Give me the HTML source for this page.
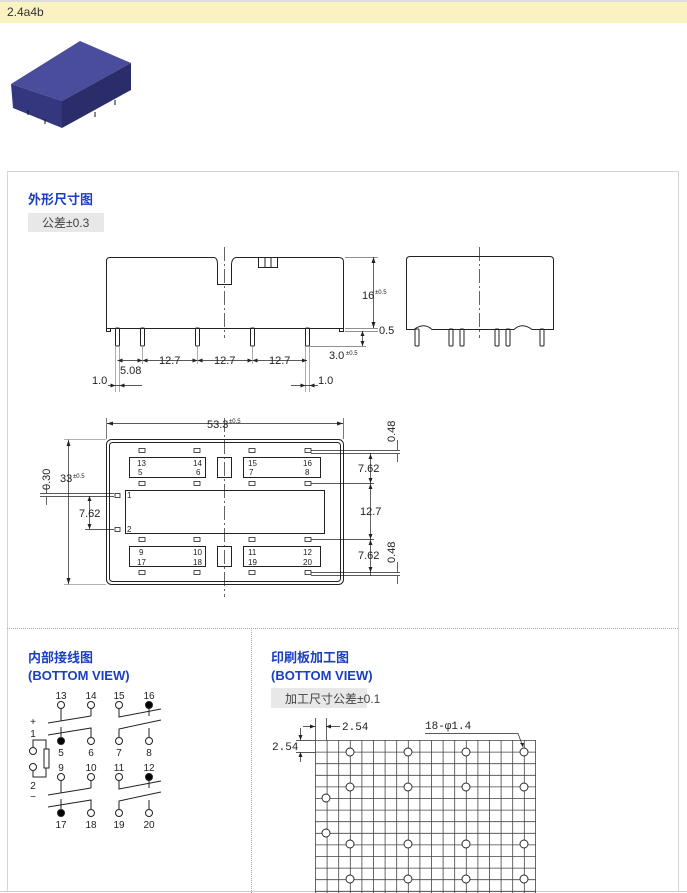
<!DOCTYPE html>
<html><head><meta charset="utf-8"><style>
body{margin:0;width:687px;height:893px;background:#fff;overflow:hidden;font-family:"Liberation Sans","Noto Sans CJK SC",sans-serif}
svg{display:block}
</style></head><body>
<svg width="687" height="893" viewBox="0 0 687 893" xmlns="http://www.w3.org/2000/svg" font-family="Liberation Sans, Noto Sans CJK SC, sans-serif">
<rect x="0" y="0" width="687" height="2" fill="#ddd"/>
<rect x="0" y="2" width="687" height="21" fill="#faf2c0"/>
<text x="7" y="16" font-size="12" fill="#333">2.4a4b</text>
<!-- relay -->
<polygon points="11,84 80,41 131,63 62,101" fill="#4a4c9c"/>
<polygon points="11,84 62,101 62,128 13,108" fill="#34367e"/>
<polygon points="62,101 131,63 131,90 62,128" fill="#2b2c6a"/>
<g stroke="#111" stroke-width="1"><line x1="28" y1="110" x2="28" y2="115"/><line x1="45" y1="119" x2="45" y2="124"/><line x1="95" y1="112" x2="95" y2="117"/><line x1="115" y1="100" x2="115" y2="105"/></g>
<!-- panels -->
<g fill="none" stroke="#aaa" stroke-dasharray="1,1">
<rect x="7.5" y="171.5" width="671" height="720"/>
<line x1="7" y1="628.5" x2="679" y2="628.5"/>
<line x1="251.5" y1="628" x2="251.5" y2="893"/>
</g>
<line x1="0" y1="891.5" x2="687" y2="891.5" stroke="#ccc"/>
<g font-weight="bold" fill="#1a3fc0" font-size="13">
<text x="28" y="204">外形尺寸图</text>
<text x="28" y="662">内部接线图</text>
<text x="28" y="680">(BOTTOM VIEW)</text>
<text x="271" y="662">印刷板加工图</text>
<text x="271" y="680">(BOTTOM VIEW)</text>
</g>
<rect x="28" y="213" width="76" height="19" fill="#e8e8e8"/>
<text x="42" y="227" font-size="12" fill="#444">公差±0.3</text>
<rect x="271" y="688" width="96" height="20" fill="#e8e8e8"/>
<text x="285" y="703" font-size="12" fill="#444">加工尺寸公差±0.1</text>

<g fill="none" stroke="#222" stroke-width="1">
<path d="M106.5,328.5 V261 Q106.5,257.5 110,257.5 H214 Q217.5,258 217.5,264 V284.5 H231.5 V264 Q232,258 236,257.5 H339 Q343.5,257.5 343.5,262 V328.5 Z"/>
<rect x="258.5" y="257.5" width="19" height="10"/><line x1="265" y1="257" x2="265" y2="268"/><line x1="271" y1="257" x2="271" y2="268"/>
<rect x="106.5" y="328.5" width="4" height="3"/><rect x="339.5" y="328.5" width="4" height="3"/>
<g><rect x="115.5" y="328" width="4" height="18" rx="1"/><rect x="140.5" y="328" width="4" height="18" rx="1"/><rect x="195.5" y="328" width="4" height="18" rx="1"/><rect x="250.5" y="328" width="4" height="18" rx="1"/><rect x="305.5" y="328" width="4" height="18" rx="1"/></g>
<line x1="224.5" y1="247" x2="224.5" y2="338" stroke-dasharray="14,3,2,3" stroke-width="0.7"/>
<line x1="373.5" y1="257" x2="373.5" y2="328" stroke-width="0.7"/>
<line x1="345" y1="257.5" x2="378" y2="257.5" stroke-width="0.6"/>
<line x1="345" y1="328.5" x2="378" y2="328.5" stroke-width="0.6"/>
<line x1="345" y1="331.5" x2="378" y2="331.5" stroke-width="0.6"/>
<line x1="362.5" y1="331" x2="362.5" y2="346" stroke-width="0.7"/>
<line x1="310" y1="346.5" x2="366" y2="346.5" stroke-width="0.6"/>
<line x1="117.5" y1="360.5" x2="307" y2="360.5" stroke-width="0.7"/>
<g stroke="#999" stroke-width="0.8"><line x1="115.5" y1="346" x2="115.5" y2="392"/><line x1="119.5" y1="346" x2="119.5" y2="392"/><line x1="305.5" y1="346" x2="305.5" y2="392"/><line x1="309.5" y1="346" x2="309.5" y2="392"/><line x1="142.5" y1="346" x2="142.5" y2="364"/><line x1="197.5" y1="346" x2="197.5" y2="364"/><line x1="252.5" y1="346" x2="252.5" y2="364"/></g>
<line x1="108" y1="385.5" x2="142" y2="385.5" stroke-width="0.7"/>
<line x1="291" y1="385.5" x2="318" y2="385.5" stroke-width="0.7"/>
<path d="M406.5,329.5 V260 Q406.5,256.5 410,256.5 H550 Q553.5,256.5 553.5,260 V329.5 H532 Q522,322 514,329.5 H432 Q424,322 414,329.5 Z"/>
<g><rect x="415" y="329" width="4" height="17" rx="1"/><rect x="449" y="329" width="4" height="17" rx="1"/><rect x="460" y="329" width="4" height="17" rx="1"/><rect x="495" y="329" width="4" height="17" rx="1"/><rect x="506" y="329" width="4" height="17" rx="1"/><rect x="540" y="329" width="4" height="17" rx="1"/></g>
<line x1="479.5" y1="247" x2="479.5" y2="338" stroke-dasharray="14,3,2,3" stroke-width="0.7"/>
<rect x="106.5" y="439.5" width="237" height="145" rx="5"/>
<rect x="109.5" y="442.5" width="231" height="139" rx="3"/>
<line x1="107" y1="423.5" x2="343" y2="423.5" stroke-width="0.7"/>
<line x1="106.5" y1="418" x2="106.5" y2="439" stroke-width="0.6"/><line x1="343.5" y1="418" x2="343.5" y2="439" stroke-width="0.6"/>
<line x1="224.5" y1="418" x2="224.5" y2="597" stroke-dasharray="14,3,2,3" stroke-width="0.7"/>
<g stroke-width="0.8">
<rect x="139" y="448.5" width="6" height="4"/><rect x="194" y="448.5" width="6" height="4"/><rect x="249" y="448.5" width="6" height="4"/><rect x="305" y="448.5" width="6" height="4"/>
<rect x="139" y="481.5" width="6" height="4"/><rect x="194" y="481.5" width="6" height="4"/><rect x="249" y="481.5" width="6" height="4"/><rect x="305" y="481.5" width="6" height="4"/>
<rect x="139" y="537.5" width="6" height="4"/><rect x="194" y="537.5" width="6" height="4"/><rect x="249" y="537.5" width="6" height="4"/><rect x="305" y="537.5" width="6" height="4"/>
<rect x="139" y="570.5" width="6" height="4"/><rect x="194" y="570.5" width="6" height="4"/><rect x="249" y="570.5" width="6" height="4"/><rect x="305" y="570.5" width="6" height="4"/>
<rect x="115" y="493.5" width="5" height="4"/><rect x="115" y="527.5" width="5" height="4"/>
</g>
<rect x="129.5" y="457.5" width="76" height="20"/><rect x="243.5" y="457.5" width="77" height="20"/><rect x="217.5" y="457.5" width="14" height="20"/>
<rect x="125.5" y="490.5" width="199" height="43"/>
<rect x="129.5" y="546.5" width="76" height="20"/><rect x="243.5" y="546.5" width="77" height="20"/><rect x="217.5" y="546.5" width="14" height="20"/>
<g stroke-width="0.7">
<line x1="68.5" y1="439" x2="68.5" y2="585"/>
<line x1="64" y1="439.5" x2="106" y2="439.5" stroke="#999"/><line x1="64" y1="584.5" x2="106" y2="584.5" stroke="#999"/>
<line x1="40" y1="493.5" x2="114" y2="493.5"/><line x1="40" y1="496.5" x2="114" y2="496.5"/>
<line x1="46.5" y1="485" x2="46.5" y2="493"/><line x1="46.5" y1="497" x2="46.5" y2="505"/>
<line x1="89.5" y1="496" x2="89.5" y2="529"/><line x1="85" y1="529.5" x2="114" y2="529.5"/>
<line x1="311" y1="450.5" x2="400" y2="450.5"/><line x1="311" y1="453.5" x2="400" y2="453.5"/>
<line x1="311" y1="483.5" x2="374" y2="483.5"/><line x1="311" y1="539.5" x2="374" y2="539.5"/>
<line x1="311" y1="572.5" x2="400" y2="572.5"/><line x1="311" y1="575.5" x2="400" y2="575.5"/>
<line x1="370.5" y1="453" x2="370.5" y2="576"/>
<line x1="397.5" y1="440" x2="397.5" y2="450"/><line x1="397.5" y1="454" x2="397.5" y2="462"/>
<line x1="397.5" y1="562" x2="397.5" y2="572"/><line x1="397.5" y1="576" x2="397.5" y2="584"/>
</g>
</g>
<g fill="#222">
<path d="M373.5,257 l-2,6 h4z M373.5,328 l-2,-6 h4z M107,423.5 l6,-2 v4z M343,423.5 l-6,-2 v4z M68.5,440 l-2,6 h4z M68.5,584 l-2,-6 h4z M117.5,360.5 l5,-2 v4z M307,360.5 l-5,-2 v4z M142.5,360.5 l-5,-2 v4z M142.5,360.5 l5,-2 v4z M197.5,360.5 l-5,-2 v4z M197.5,360.5 l5,-2 v4z M252.5,360.5 l-5,-2 v4z M252.5,360.5 l5,-2 v4z M115.5,385.5 l-5,-2 v4z M119.5,385.5 l5,-2 v4z M305.5,385.5 l-5,-2 v4z M309.5,385.5 l5,-2 v4z M89.5,496 l-2,5 h4z M89.5,529 l-2,-5 h4z M370.5,454 l-2,5 h4z M370.5,483 l-2,-5 h4z M370.5,484 l-2,5 h4z M370.5,539 l-2,-5 h4z M370.5,540 l-2,5 h4z M370.5,572 l-2,-5 h4z M362.5,331 l-2,5 h4z M362.5,346 l-2,-5 h4z"/>
</g>
<g font-size="11" fill="#222">
<text x="362" y="299">16</text><text x="375" y="294" font-size="6">±0.5</text>
<text x="379" y="334">0.5</text>
<text x="329" y="359">3.0</text><text x="346" y="355" font-size="6">±0.5</text>
<text x="159" y="364">12.7</text><text x="214" y="364">12.7</text><text x="269" y="364">12.7</text>
<text x="120" y="374">5.08</text>
<text x="92" y="384">1.0</text><text x="318" y="384">1.0</text>
<text x="207" y="428">53.3</text><text x="229" y="423" font-size="6">±0.5</text>
<text x="60" y="482">33</text><text x="73" y="478" font-size="6">±0.5</text>
<text x="79" y="517">7.62</text>
<text x="358" y="472">7.62</text><text x="360" y="515">12.7</text><text x="358" y="559">7.62</text>
<text transform="translate(50,490) rotate(-90)">0.30</text>
<text transform="translate(395,442) rotate(-90)">0.48</text>
<text transform="translate(395,563) rotate(-90)">0.48</text>
</g>
<g font-size="8" fill="#222">
<text x="137" y="466">13</text><text x="193" y="466">14</text><text x="138" y="475">5</text><text x="196" y="475">6</text>
<text x="248" y="466">15</text><text x="303" y="466">16</text><text x="249" y="475">7</text><text x="305" y="475">8</text>
<text x="127" y="498">1</text><text x="127" y="532">2</text>
<text x="139" y="555">9</text><text x="193" y="555">10</text><text x="137" y="565">17</text><text x="193" y="565">18</text>
<text x="248" y="555">11</text><text x="303" y="555">12</text><text x="248" y="565">19</text><text x="303" y="565">20</text>
</g>

<g fill="none" stroke="#222" stroke-width="1">
<circle cx="61" cy="705" r="3.5"/><circle cx="91" cy="705" r="3.5"/><circle cx="119" cy="705" r="3.5"/><circle cx="149" cy="705" r="3.5" fill="#000"/>
<circle cx="61" cy="741" r="3.5" fill="#000"/><circle cx="91" cy="741" r="3.5"/><circle cx="119" cy="741" r="3.5"/><circle cx="149" cy="741" r="3.5"/>
<circle cx="61" cy="777" r="3.5"/><circle cx="91" cy="777" r="3.5"/><circle cx="119" cy="777" r="3.5"/><circle cx="149" cy="777" r="3.5" fill="#000"/>
<circle cx="61" cy="813" r="3.5" fill="#000"/><circle cx="91" cy="813" r="3.5"/><circle cx="119" cy="813" r="3.5"/><circle cx="149" cy="813" r="3.5"/>
<path d="M61,709 V721 M48,723 L91,716 M91,709 V716"/>
<path d="M119,709 V717 L161,709 M149,709 V716"/>
<path d="M61,737 V727 M48,735 L91,728 V737"/>
<path d="M119,737 V729 L161,720 M149,737 V728"/>
<path d="M61,781 V793 M48,795 L91,788 M91,781 V788"/>
<path d="M119,781 V789 L161,781 M149,781 V788"/>
<path d="M61,809 V799 M48,807 L91,800 V809"/>
<path d="M119,809 V801 L161,792 M149,809 V800"/>
<circle cx="33" cy="751" r="3.5"/><circle cx="33" cy="767" r="3.5"/>
<path d="M33,747 V740 H46 V749 M33,771 V777 H46 V768"/>
<rect x="44" y="749" width="5" height="19"/>
</g>
<g font-size="10" fill="#222" text-anchor="middle">
<text x="61" y="699">13</text><text x="91" y="699">14</text><text x="119" y="699">15</text><text x="149" y="699">16</text>
<text x="61" y="756">5</text><text x="91" y="756">6</text><text x="119" y="756">7</text><text x="149" y="756">8</text>
<text x="61" y="771">9</text><text x="91" y="771">10</text><text x="119" y="771">11</text><text x="149" y="771">12</text>
<text x="61" y="828">17</text><text x="91" y="828">18</text><text x="119" y="828">19</text><text x="149" y="828">20</text>
<text x="33" y="725">+</text><text x="33" y="737">1</text><text x="33" y="789">2</text><text x="33" y="800">−</text>
</g>

<g stroke="#444" stroke-width="0.8" fill="none">
<path d="M315.5,740V893M327.1,740V893M338.7,740V893M350.3,740V893M361.9,740V893M373.5,740V893M385.1,740V893M396.7,740V893M408.3,740V893M419.9,740V893M431.5,740V893M443.1,740V893M454.7,740V893M466.3,740V893M477.9,740V893M489.5,740V893M501.1,740V893M512.7,740V893M524.3,740V893M535.5,740V893"/>
<path d="M315,740.5H536M315,752.1H536M315,763.7H536M315,775.3H536M315,786.9H536M315,798.5H536M315,810.1H536M315,821.7H536M315,833.3H536M315,844.9H536M315,856.5H536M315,868.1H536M315,879.7H536M315,891.3H536"/>
</g>
<g fill="#fff" stroke="#222" stroke-width="0.9">
<circle cx="350" cy="752" r="4"/><circle cx="408" cy="752" r="4"/><circle cx="466" cy="752" r="4"/><circle cx="524" cy="752" r="4"/>
<circle cx="350" cy="787" r="4"/><circle cx="408" cy="787" r="4"/><circle cx="466" cy="787" r="4"/><circle cx="524" cy="787" r="4"/>
<circle cx="326" cy="798" r="4"/><circle cx="326" cy="833" r="4"/>
<circle cx="350" cy="844" r="4"/><circle cx="408" cy="844" r="4"/><circle cx="466" cy="844" r="4"/><circle cx="524" cy="844" r="4"/>
<circle cx="350" cy="879" r="4"/><circle cx="408" cy="879" r="4"/><circle cx="466" cy="879" r="4"/><circle cx="524" cy="879" r="4"/>
</g>
<g stroke="#222" stroke-width="0.7" fill="none">
<path d="M315.5,718V740M326.5,718V740M303,726.5H315M326,726.5H340"/>
<path d="M296,740.5H315M296,752.5H315M300.5,728V740M300.5,753V762"/>
<path d="M425,733.5H518L523,747"/>
</g>
<g fill="#222"><path d="M315,726.5l-5,-2v4z M326,726.5l5,-2v4z M300.5,740l-2,-5h4z M300.5,752l-2,5h4z M523,747l-3,-4h4z"/></g>
<g font-size="11" fill="#222" font-family="Liberation Mono, monospace">
<text x="342" y="730">2.54</text>
<text x="272" y="750">2.54</text>
<text x="425" y="729">18-φ1.4</text>
</g>
</svg>
</body></html>
